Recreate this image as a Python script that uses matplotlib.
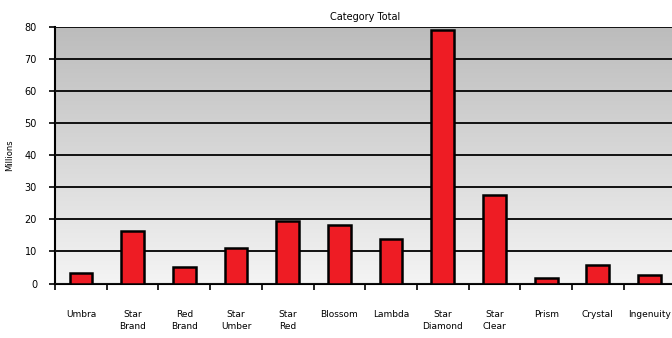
import matplotlib
matplotlib.use("Agg")
import matplotlib.pyplot as plt
import numpy as np
from matplotlib.colors import LinearSegmentedColormap

categories = ["Umbra", "Star\nBrand", "Red\nBrand", "Star\nUmber", "Star\nRed", "Blossom",
              "Lambda", "Star\nDiamond", "Star\nClear", "Prism", "Crystal", "Ingenuity"]
values = [3.4, 16.4, 5.1, 11.0, 19.6, 18.3, 14.0, 78.9, 27.6, 1.8, 5.8, 2.7]
yticks = [0, 10, 20, 30, 40, 50, 60, 70, 80]
title = "Category Total"
ylabel = "Millions"

plt.rcParams['font.family'] = ['Liberation Sans Narrow', 'DejaVu Sans']

fig = plt.figure(figsize=(6.72, 3.38), dpi=100)
ax = fig.add_axes([0.082, 0.161, 0.923, 0.760])

x = np.arange(len(categories))
ax.set_xlim(-0.5, len(categories) - 0.5)
ax.set_ylim(0, 80)

# gradient background
grad = np.linspace(0, 1, 256).reshape(-1, 1)
cmap = LinearSegmentedColormap.from_list("g", ["#f4f4f4", "#bcbcbc"])
ax.imshow(grad, aspect="auto", cmap=cmap, origin="lower",
          extent=[-0.5, len(categories) - 0.5, 0, 80], zorder=0)

ax.set_yticks(yticks)
ax.yaxis.grid(True, color="#111111", linewidth=1.4, zorder=1)
ax.set_axisbelow(False)

ax.bar(x, values, width=0.44, color="#ee1c24", edgecolor="#000000",
       linewidth=1.8, zorder=3)

ax.set_xticks(x)
ax.set_xticklabels(categories, fontsize=6.5, va="top", linespacing=1.5)
ax.set_xticks(np.arange(-0.5, len(categories) - 0.5 + 0.01, 1), minor=True)
ax.tick_params(axis="x", which="major", length=0, pad=19)
ax.tick_params(axis="x", which="minor", length=4, width=1.2, color="black", direction="out")
ax.tick_params(axis="y", length=4, width=1.2, color="black", labelsize=7, pad=9)

for s in ["top", "right"]:
    ax.spines[s].set_visible(False)
ax.spines["left"].set_linewidth(1.5)
ax.spines["bottom"].set_linewidth(1.5)

ax.set_title(title, fontsize=7, pad=5)
ax.set_ylabel(ylabel, fontsize=6)
ax.yaxis.set_label_coords(-0.066, 0.5)

fig.savefig("out.png", dpi=100, facecolor="white")
